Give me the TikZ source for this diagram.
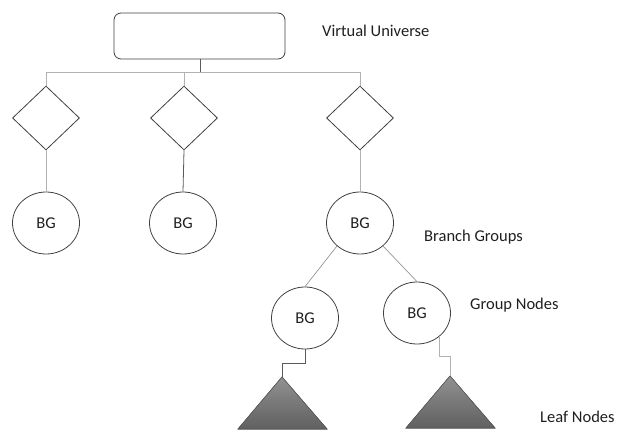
\documentclass[tikz,border=0pt]{standalone}
\usepackage{fontspec}
\setmainfont{Carlito}
\usetikzlibrary{shapes.geometric}
\definecolor{outline}{RGB}{64,64,64}
\definecolor{lightwire}{RGB}{178,178,178}
\definecolor{darkwire}{RGB}{90,90,90}
\definecolor{midwire}{RGB}{150,150,150}
\definecolor{leaftop}{RGB}{145,145,145}
\definecolor{leafbottom}{RGB}{96,96,96}
\tikzset{
  every node/.style={font=\fontsize{16.5}{19}\selectfont, text=black!88},
  universe/.style={draw=outline, line width=0.8pt, rounded corners=7pt,
    minimum width=171pt, minimum height=46pt, inner sep=0pt},
  decision/.style={draw=outline, line width=0.8pt, diamond,
    minimum width=67pt, minimum height=64pt, inner sep=0pt},
  bgnode/.style={draw=outline, line width=0.8pt, ellipse,
    minimum width=67pt, minimum height=62pt, inner sep=0pt},
  label/.style={anchor=west, inner sep=0pt},
  lightlink/.style={draw=lightwire, line width=0.8pt},
  darklink/.style={draw=darkwire, line width=0.8pt},
  midlink/.style={draw=midwire, line width=0.7pt},
  leaf/.style={draw=darkwire, line width=0.6pt, top color=leaftop, bottom color=leafbottom}
}
\begin{document}
\begin{tikzpicture}[x=1pt,y=-1pt]
\useasboundingbox (0,0) rectangle (617,430);

% root of the scene graph
\node[universe] (vu) at (199.5,36) {};
\node[label] (vulabel) at (322,30.5) {Virtual Universe};

% bus joining the root to its three children
\coordinate (busmid) at (200,72);
\node[decision] (d1) at (46,118) {};
\node[decision] (d2) at (184,118) {};
\node[decision] (d3) at (360,118) {};
\coordinate (bus1) at (d1.north |- busmid);
\coordinate (bus3) at (d3.north |- busmid);
\draw[lightlink] (bus1) -- (bus3);
\draw[lightlink] (bus1) -- (d1.north);
\draw[lightlink] (d2.north |- busmid) -- (d2.north);
\draw[lightlink] (bus3) -- (d3.north);
\draw[darklink] (vu.south -| busmid) -- (busmid);

% branch groups
\node[bgnode] (b1) at (46,223) {BG};
\node[bgnode] (b2) at (183,223) {BG};
\node[bgnode] (b3) at (360,223) {BG};
\node[label] (bglabel) at (424,237) {Branch Groups};
\draw[lightlink] (d1.south) -- (b1.north);
\draw[darklink] (d2.south) -- (b2.north);
\draw[lightlink] (d3.south) -- (b3.north);

% group nodes under the third branch group
\node[bgnode] (g1) at (305,318) {BG};
\node[bgnode] (g2) at (417,313) {BG};
\node[label] (gnlabel) at (470,305) {Group Nodes};
\draw[midlink] (b3.225) -- (g1.north);
\draw[midlink] (b3.-45) -- (g2.north);

% leaf nodes
\coordinate (leaf1) at (282,377);
\coordinate (leaf2) at (450,376);
\fill[leaf] (leaf1) -- (238,429) -- (327,429) -- cycle;
\fill[leaf] (leaf2) -- (406,428) -- (495,428) -- cycle;
\draw[leaf, fill=none] (leaf1) -- (238,429) -- (327,429) -- cycle;
\draw[leaf, fill=none] (leaf2) -- (406,428) -- (495,428) -- cycle;
\node[label] (leaflabel) at (540,417) {Leaf Nodes};

% elbow links from group nodes to leaves
\draw[darklink] (g1.south) -- ++(0,14) -| (leaf1);
\draw[lightlink] (g2.-46) -- (g2.-46 |- 0,356) -| (leaf2);
\end{tikzpicture}
\end{document}
